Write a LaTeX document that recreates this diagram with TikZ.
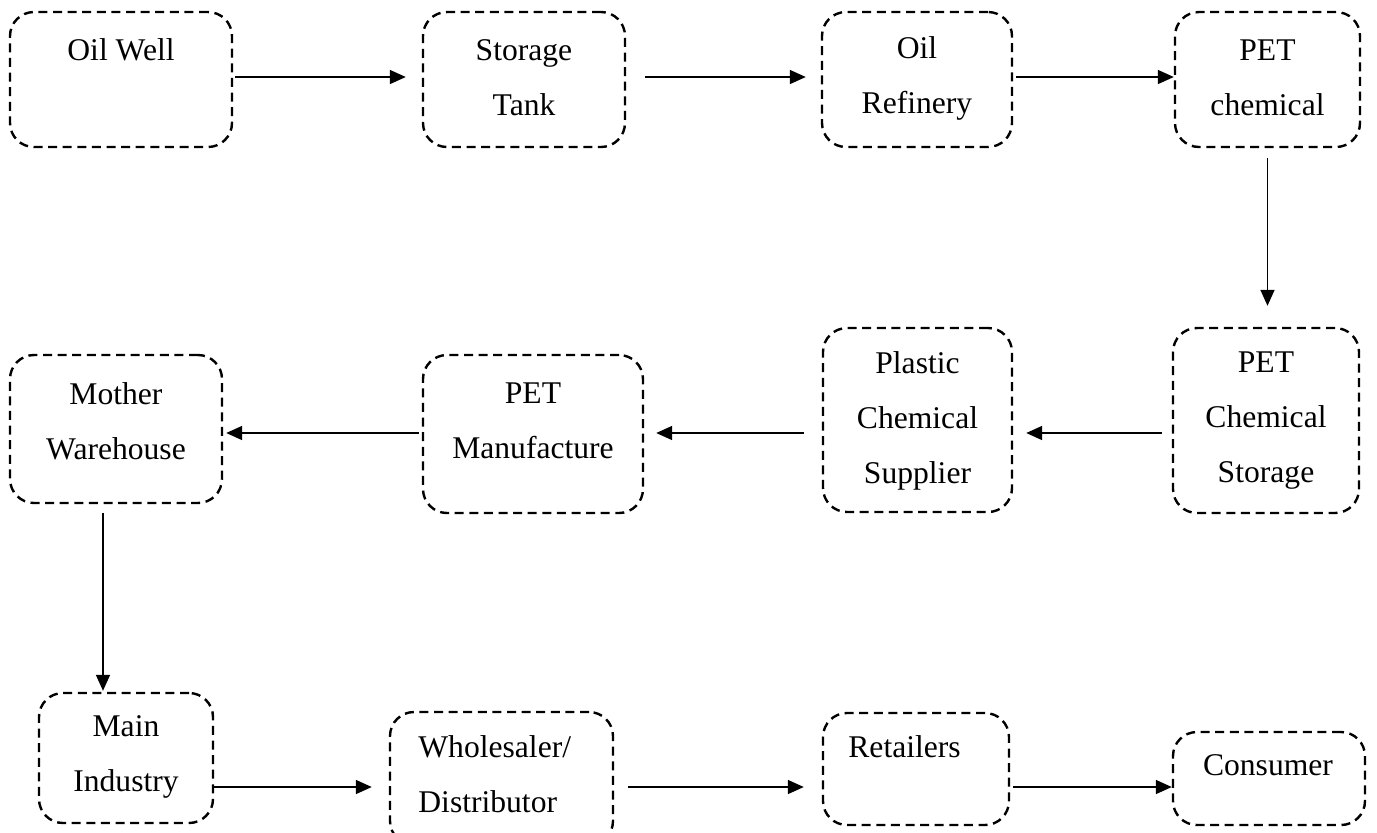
\documentclass[tikz,border=0pt]{standalone}
\usepackage{fontspec}
\setmainfont{Liberation Serif}
\usetikzlibrary{arrows.meta}
\begin{document}
\begin{tikzpicture}[x=0.5pt,y=-0.5pt,
  pbox/.style={draw=black,line width=1.2pt,dash pattern=on 4.5pt off 2.8pt,rounded corners=12pt,inner sep=0pt},
  ptxt/.style={font=\fontsize{15.8pt}{27.5pt}\selectfont,align=center,inner sep=0pt},
  arr/.style={line width=0.8pt,-{Triangle[length=8pt,width=7pt]}}]
\useasboundingbox (0,0) rectangle (1377,832);
% row 1
\node[pbox,minimum width=111pt,minimum height=67.5pt] (ow) at (121,79.5) {};
\node[pbox,minimum width=101pt,minimum height=67.5pt] (st) at (524,79.5) {};
\node[pbox,minimum width=95pt,minimum height=67.5pt] (or) at (917,79.5) {};
\node[pbox,minimum width=92.5pt,minimum height=67.5pt] (pc) at (1267.5,79.5) {};
% row 2
\node[pbox,minimum width=93pt,minimum height=92.5pt] (pcs) at (1266,420.5) {};
\node[pbox,minimum width=94.5pt,minimum height=92pt] (psup) at (917.5,420) {};
\node[pbox,minimum width=110pt,minimum height=79pt] (pm) at (533,434) {};
\node[pbox,minimum width=106pt,minimum height=74pt] (mw) at (116,429) {};
% row 3
\node[pbox,minimum width=87pt,minimum height=65pt] (mi) at (126,758) {};
\node[pbox,minimum width=111.5pt,minimum height=66.5pt] (ws) at (501.5,778.5) {};
\node[pbox,minimum width=93pt,minimum height=56pt] (rt) at (916,769) {};
\node[pbox,minimum width=96pt,minimum height=46.5pt] (cs) at (1269,778.5) {};
% texts
\node[ptxt] (tow) at (121,50) {Oil Well};
\node[ptxt] (tst) at (524,78) {Storage\\Tank};
\node[ptxt] (tor) at (917,78) {Oil\\Refinery};
\node[ptxt] (tpc) at (1267.5,78) {PET\\chemical};
\node[ptxt] (tpcs) at (1266,421) {PET\\Chemical\\Storage};
\node[ptxt] (tpsup) at (917.5,421) {Plastic\\Chemical\\Supplier};
\node[ptxt] (tpm) at (533,421) {PET\\Manufacture};
\node[ptxt] (tmw) at (116,421) {Mother\\Warehouse};
\node[ptxt] (tmi) at (126,757) {Main\\Industry};
\node[ptxt,align=left,anchor=west] (tws) at (418,774) {Wholesaler/\\Distributor};
\node[ptxt,anchor=west] (trt) at (848,747) {Retailers};
\node[ptxt] (tcs) at (1268,765) {Consumer};
% rows for connectors
\coordinate (r1) at (0,77);
\coordinate (r2) at (0,433);
\coordinate (r3) at (0,787);
\coordinate (r8) at (103,0);
\draw[arr,shorten <=1pt,shorten >=8pt] (ow.east |- r1) -- (st.west |- r1);
\draw[arr,shorten <=9.5pt,shorten >=7.5pt] (st.east |- r1) -- (or.west |- r1);
\draw[arr,shorten <=1.5pt] (or.east |- r1) -- (pc.west |- r1);
\draw[arr,shorten <=5pt,shorten >=10.5pt] (pc.south) -- (pc.south |- pcs.north);
\draw[arr,shorten <=5pt,shorten >=6.5pt] (pcs.west |- r2) -- (psup.east |- r2);
\draw[arr,shorten <=9pt,shorten >=6pt] (psup.west |- r2) -- (pm.east |- r2);
\draw[arr,shorten <=1.5pt,shorten >=1.5pt] (pm.west |- r2) -- (mw.east |- r2);
\draw[arr,shorten <=4.5pt,shorten >=0.5pt] (r8 |- mw.south) -- (r8 |- mi.north);
\draw[arr,shorten >=8.5pt] (mi.east |- r3) -- (ws.west |- r3);
\draw[arr,shorten <=7pt,shorten >=9pt] (ws.east |- r3) -- (rt.west |- r3);
\draw[arr,shorten <=1.5pt] (rt.east |- r3) -- (cs.west |- r3);
\end{tikzpicture}
\end{document}
